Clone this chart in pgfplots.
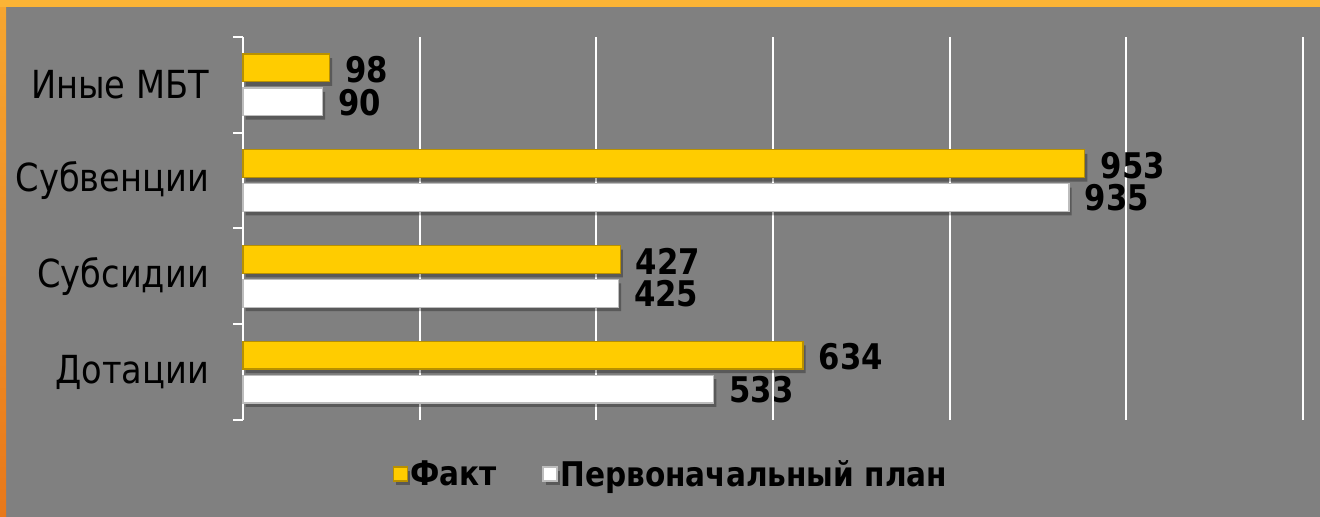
\documentclass[border=0pt]{standalone}
\usepackage{pgfplots}
\pgfplotsset{compat=1.18}
\usepackage{fontspec}
\setmainfont{DejaVu Sans}[FakeStretch=0.87]
\definecolor{bg}{HTML}{808080}
\definecolor{fakt}{HTML}{FFCC00}
\definecolor{faktedge}{HTML}{B89000}
\definecolor{planedge}{HTML}{BDBDBD}
\definecolor{orTop}{HTML}{FBB436}
\definecolor{orLeftTop}{HTML}{F6A630}
\definecolor{orLeftBot}{HTML}{E8781A}
\begin{document}
\begin{tikzpicture}
\fill[bg] (0,0) rectangle (990pt,387.75pt);
\shade[top color=orLeftTop, bottom color=orLeftBot] (0,0) rectangle (4.5pt,387.75pt);
\fill[orTop] (0,382.5pt) rectangle (990pt,387.75pt);
\begin{axis}[
  at={(182.25pt,72.75pt)}, anchor=south west,
  scale only axis, width=795pt, height=287.25pt,
  xmin=0, xmax=1200, ymin=-0.5, ymax=3.5,
  axis lines*=left,
  x axis line style={draw=none},
  y axis line style={white, line width=1.5pt},
  xtick={0,200,...,1200}, xticklabels={},
  x tick style={draw=none},
  xmajorgrids, major x grid style={white, line width=1.5pt},
  ytick={0,1,2,3},
  yticklabels={Дотации,Субсидии,Субвенции,Иные МБТ},
  y tick style={draw=none},
  yticklabel style={font=\fontsize{29}{31}\selectfont, anchor=east, xshift=-22pt},
  extra y ticks={-0.5,0.5,1.5,2.5,3.5},
  extra y tick labels={},
  extra y tick style={major tick length=7.5pt, tick align=outside, y tick style={draw=white, line width=1.5pt}},
  /pgf/number format/assume math mode=true,
  point meta=x,
  nodes near coords,
  nodes near coords align={horizontal},
  every node near coord/.append style={font=\bfseries\fontsize{26.5}{28}\selectfont, black, xshift=8pt},
  legend columns=2,
  legend style={at={(0.404,-0.141)}, anchor=center, draw=none, fill=none,
    font=\bfseries\fontsize{25.5}{27}\selectfont,
    /tikz/every even column/.append style={column sep=32pt}},
  legend image code/.code={\draw[#1, line width=1pt] (0pt,-5.25pt) rectangle (10.5pt,5.25pt);},
  clip=false,
]
\addplot[xbar, bar width=0.29, bar shift=0.177, fill=fakt, draw=faktedge, line width=1pt,
  every node near coord/.append style={yshift=11.5pt},
  preaction={fill=black, opacity=0.3, draw=none, transform canvas={xshift=2pt, yshift=-3pt}}]
  coordinates {(634,0) (427,1) (953,2) (98,3)};
\addlegendentry{Факт}
\addplot[xbar, bar width=0.29, bar shift=-0.177, fill=white, draw=planedge, line width=1pt,
  every node near coord/.append style={yshift=-13pt},
  preaction={fill=black, opacity=0.3, draw=none, transform canvas={xshift=2pt, yshift=-3pt}}]
  coordinates {(533,0) (425,1) (935,2) (90,3)};
\addlegendentry{Первоначальный план}
\end{axis}
\end{tikzpicture}
\end{document}
